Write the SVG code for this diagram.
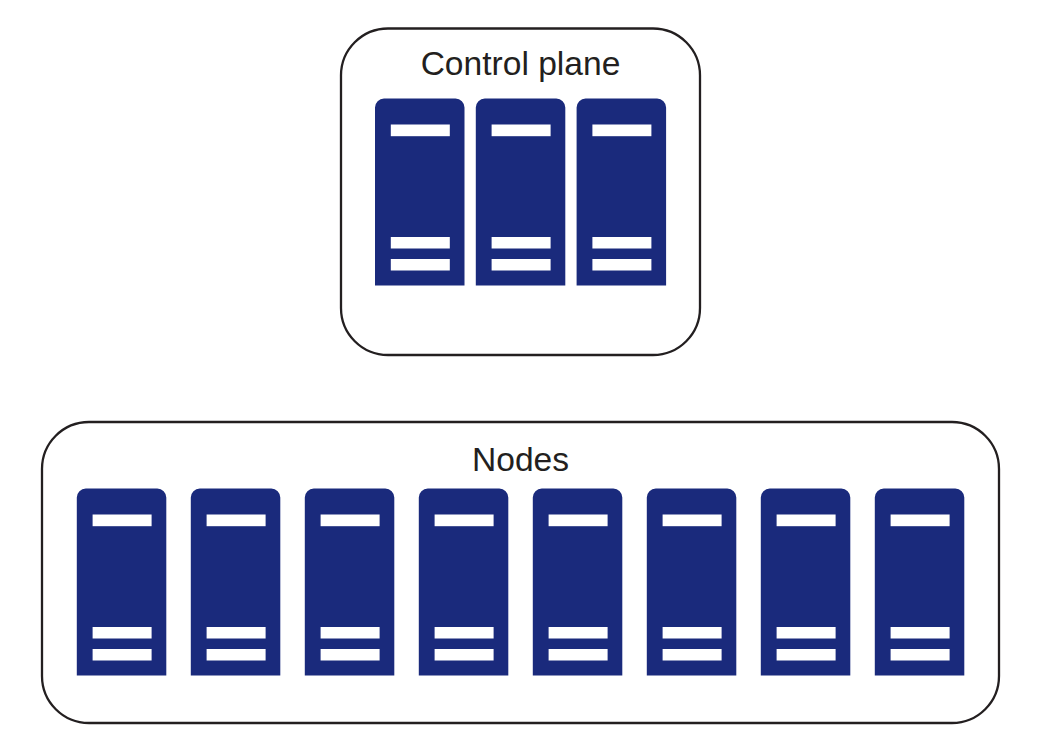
<svg xmlns="http://www.w3.org/2000/svg" xmlns:xlink="http://www.w3.org/1999/xlink" width="1058" height="746" viewBox="0 0 1058 746">
<style>
.panel{fill:#fff;stroke:#231f20;stroke-width:2.300}
.label{font-family:"Liberation Sans",Arial,sans-serif;font-size:33.600px;fill:#231f20;text-anchor:middle}
.body{fill:#1a2a7c}
.bar{fill:#fff}
</style>
<defs>
<g id="server">
<path class="body" d="M0 9.5A9 9 0 0 1 9 .5H80.500A9 9 0 0 1 89.500 9.500V187.500H0Z"/>
<rect class="bar" x="15.800" y="26.500" width="59" height="11.700"/>
<rect class="bar" x="15.800" y="139" width="59" height="11.500"/>
<rect class="bar" x="15.800" y="161" width="59" height="11.500"/>
</g>
</defs>
<rect width="1058" height="746" fill="#fff"/>
<g id="control-plane">
<rect class="panel" x="341" y="28.500" width="359" height="326.500" rx="47"/>
<text class="label" x="520.500" y="75">Control plane</text>
</g>
<g id="cp-server-1"><use href="#server" x="375" y="98"/></g>
<g id="cp-server-2"><use href="#server" x="475.800" y="98"/></g>
<g id="cp-server-3"><use href="#server" x="576.600" y="98"/></g>
<g id="nodes">
<rect class="panel" x="42" y="422" width="957" height="301" rx="47"/>
<text class="label" x="520.500" y="471">Nodes</text>
</g>
<g id="node-server-1"><use href="#server" x="76.800" y="488"/></g>
<g id="node-server-2"><use href="#server" x="190.800" y="488"/></g>
<g id="node-server-3"><use href="#server" x="304.800" y="488"/></g>
<g id="node-server-4"><use href="#server" x="418.800" y="488"/></g>
<g id="node-server-5"><use href="#server" x="532.800" y="488"/></g>
<g id="node-server-6"><use href="#server" x="646.800" y="488"/></g>
<g id="node-server-7"><use href="#server" x="760.800" y="488"/></g>
<g id="node-server-8"><use href="#server" x="874.800" y="488"/></g>
<g id="connectors"/>
</svg>
